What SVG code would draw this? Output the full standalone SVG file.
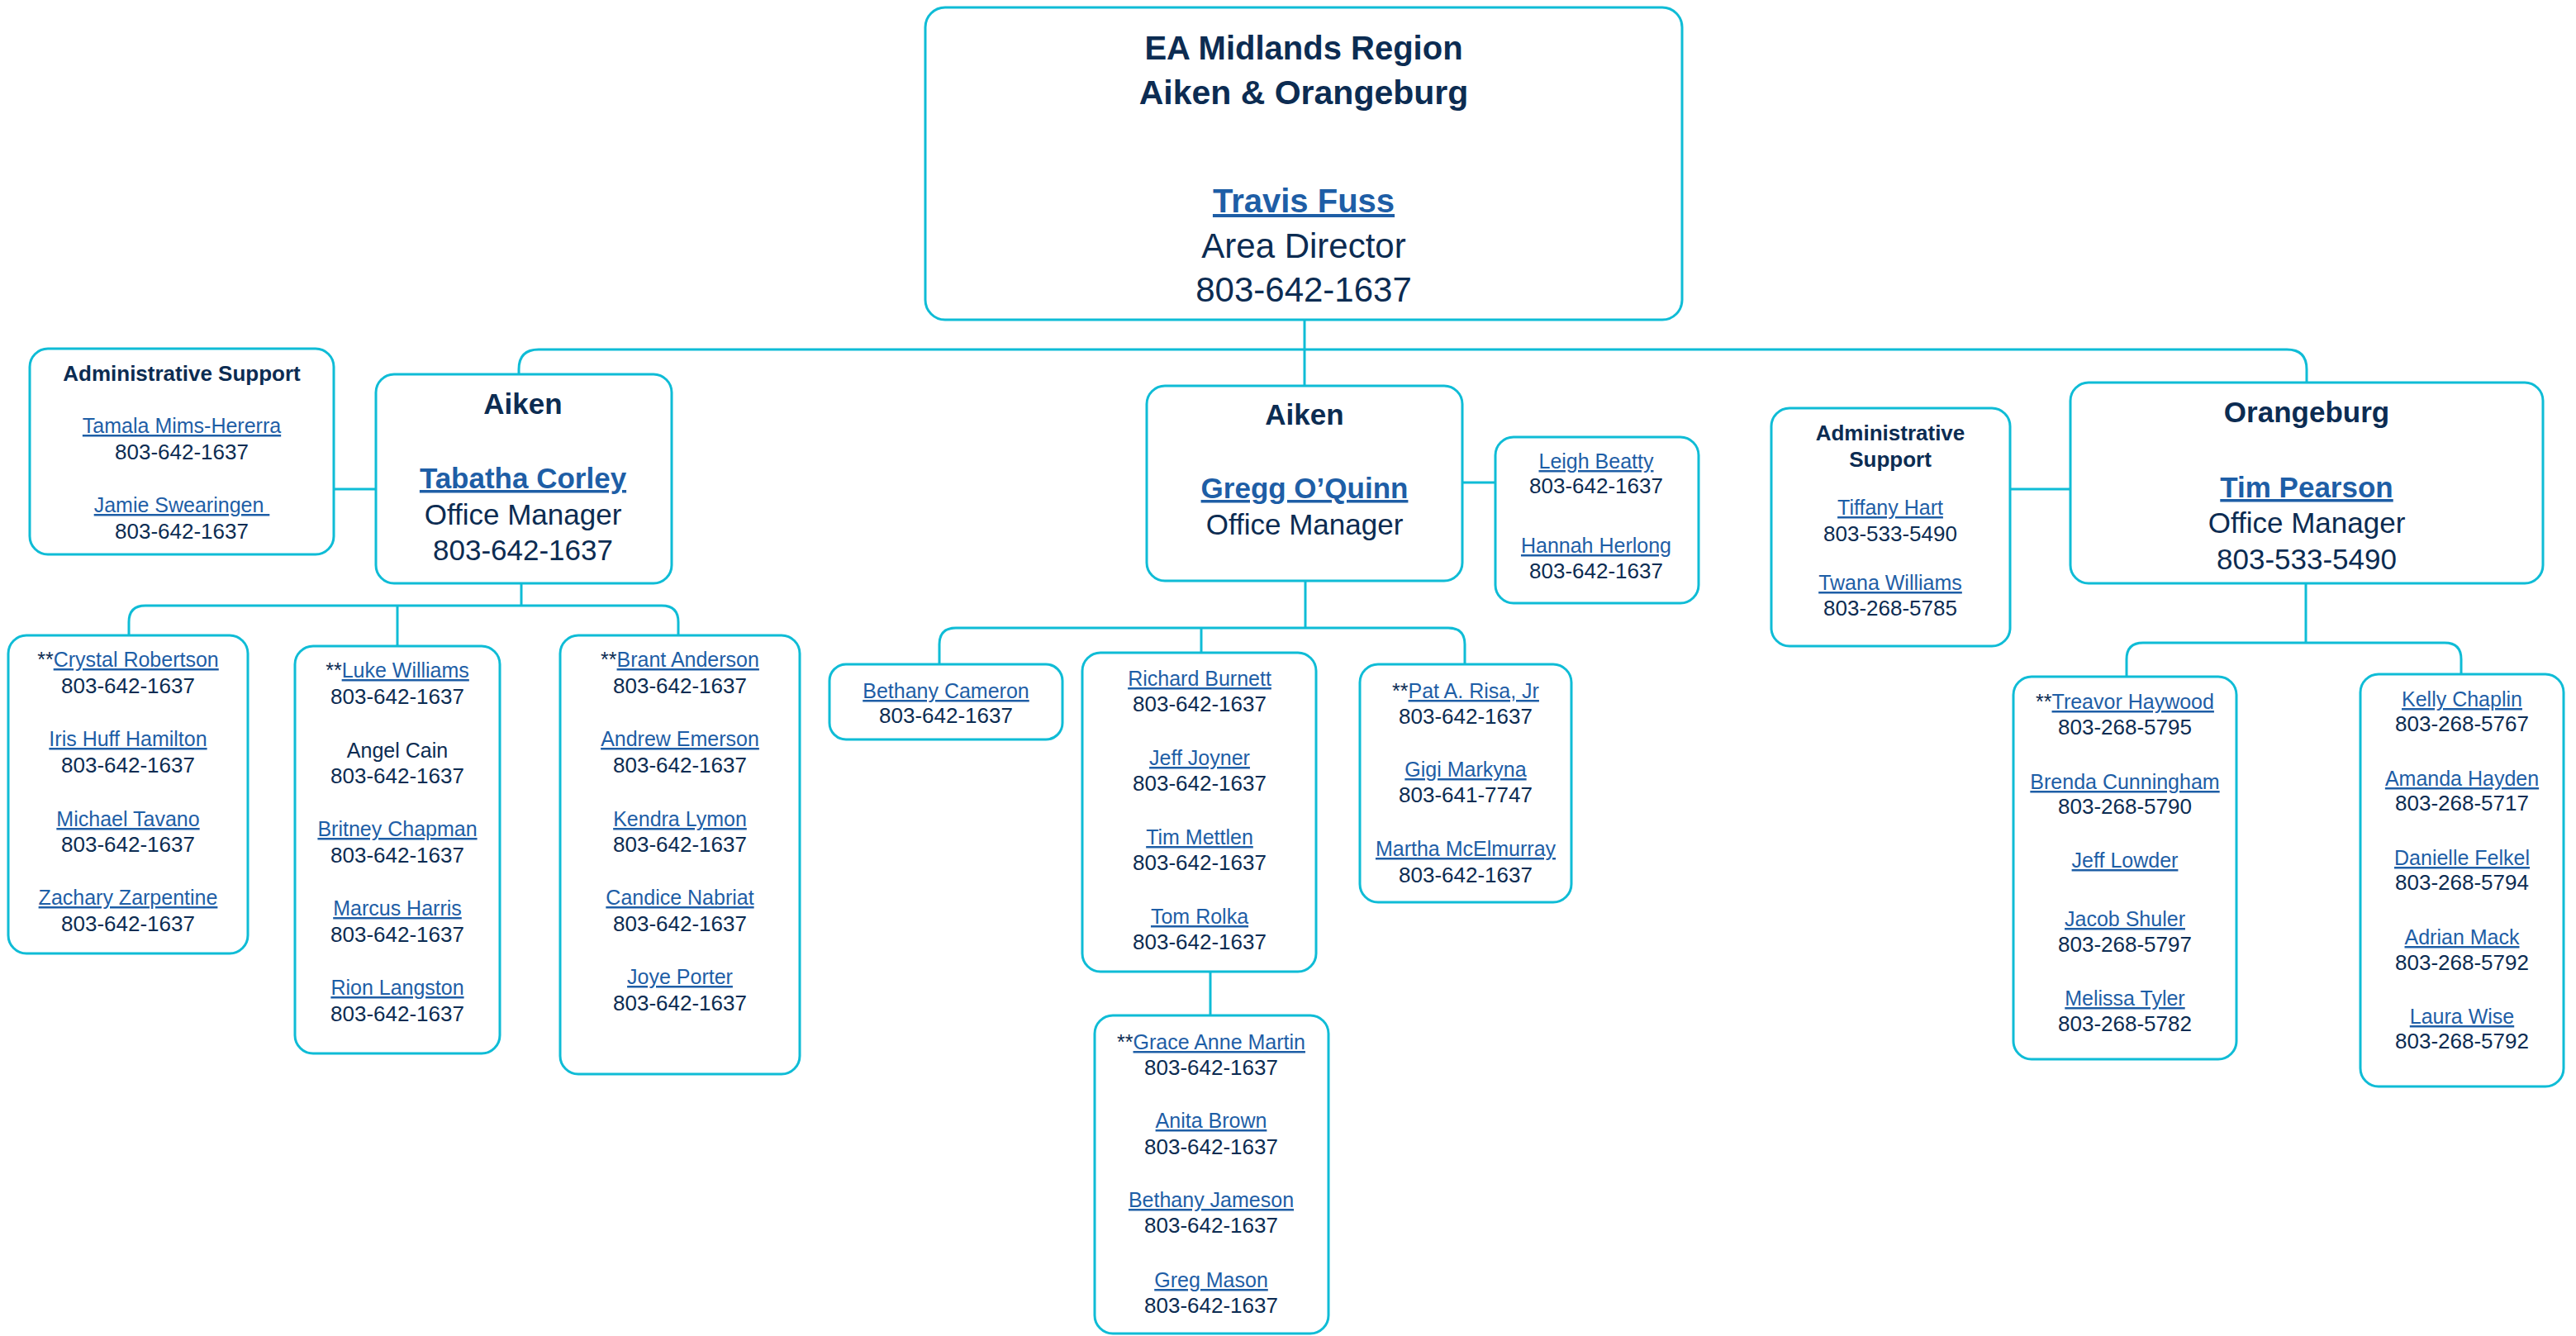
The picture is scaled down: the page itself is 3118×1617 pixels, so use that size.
<svg xmlns="http://www.w3.org/2000/svg" width="3118" height="1617" viewBox="0 0 3118 1617">
<defs>
<style>
.box{fill:#fff;stroke:#0fbcd6;stroke-width:3}
.conn{fill:none;stroke:#0fbcd6;stroke-width:3}
text{font-family:"Liberation Sans",Arial,sans-serif;fill:#0c2c52;text-anchor:middle}
.s{font-size:25px}
.p{font-size:26px}
.m{font-size:35px}
.b{font-weight:bold}
.hb{font-size:26px;font-weight:bold}
.lk{fill:#1e5ea6;text-decoration:underline}
</style>
</defs>
<rect width="3118" height="1617" fill="#fff"/>
<g id="connectors">
<path class="conn" d="M1579,387 V467"/>
<path class="conn" d="M628,453 V447 Q628,423 652,423 H2768 Q2792,423 2792,447 V463"/>
<path class="conn" d="M404,592 H455"/>
<path class="conn" d="M631,706 V733"/>
<path class="conn" d="M156,769 V753 Q156,733 176,733 H801 Q821,733 821,753 V769"/>
<path class="conn" d="M481,733 V782"/>
<path class="conn" d="M1770,584 H1810"/>
<path class="conn" d="M1580,703 V760"/>
<path class="conn" d="M1137,804 V780 Q1137,760 1157,760 H1753 Q1773,760 1773,780 V804"/>
<path class="conn" d="M1454,760 V790"/>
<path class="conn" d="M1465,1177 V1229"/>
<path class="conn" d="M2433,592 H2506"/>
<path class="conn" d="M2791,706 V778"/>
<path class="conn" d="M2574,819 V798 Q2574,778 2594,778 H2959 Q2979,778 2979,798 V816"/>
</g>
<g id="director">
<rect class="box" x="1120" y="9" width="916" height="378" rx="24"/>
<text x="1578" y="72" class="b" font-size="40">EA Midlands Region</text>
<text x="1578" y="126" class="b" font-size="41">Aiken &amp; Orangeburg</text>
<text x="1578" y="257" class="b lk" font-size="40">Travis Fuss</text>
<text x="1578" y="312" font-size="42">Area Director</text>
<text x="1578" y="365" font-size="42">803-642-1637</text>
</g>
<g id="admin-aiken">
<rect class="box" x="36" y="422" width="368" height="249" rx="22"/>
<text x="220" y="461" class="hb">Administrative Support</text>
<text x="220" y="524" class="s lk">Tamala Mims-Hererra</text>
<text x="220" y="556" class="p">803-642-1637</text>
<text x="220" y="620" class="s lk">Jamie Swearingen&#160;</text>
<text x="220" y="652" class="p">803-642-1637</text>
</g>
<g id="aiken-corley">
<rect class="box" x="455" y="453" width="358" height="253" rx="22"/>
<text x="633" y="501" class="m b">Aiken</text>
<text x="633" y="591" class="m b lk">Tabatha Corley</text>
<text x="633" y="635" class="m">Office Manager</text>
<text x="633" y="678" class="m">803-642-1637</text>
</g>
<g id="aiken-oquinn">
<rect class="box" x="1388" y="467" width="382" height="236" rx="22"/>
<text x="1579" y="514" class="m b">Aiken</text>
<text x="1579" y="603" class="m b lk">Gregg O’Quinn</text>
<text x="1579" y="647" class="m">Office Manager</text>
</g>
<g id="support-oquinn">
<rect class="box" x="1810" y="529" width="246" height="201" rx="22"/>
<text x="1932" y="567" class="s lk">Leigh Beatty</text>
<text x="1932" y="597" class="p">803-642-1637</text>
<text x="1932" y="669" class="s lk">Hannah Herlong</text>
<text x="1932" y="700" class="p">803-642-1637</text>
</g>
<g id="admin-orangeburg">
<rect class="box" x="2144" y="494" width="289" height="288" rx="22"/>
<text x="2288" y="533" class="hb">Administrative</text>
<text x="2288" y="565" class="hb">Support</text>
<text x="2288" y="623" class="s lk">Tiffany Hart</text>
<text x="2288" y="655" class="p">803-533-5490</text>
<text x="2288" y="714" class="s lk">Twana Williams</text>
<text x="2288" y="745" class="p">803-268-5785</text>
</g>
<g id="orangeburg-pearson">
<rect class="box" x="2506" y="463" width="572" height="243" rx="22"/>
<text x="2792" y="511" class="m b">Orangeburg</text>
<text x="2792" y="602" class="m b lk">Tim Pearson</text>
<text x="2792" y="645" class="m">Office Manager</text>
<text x="2792" y="689" class="m">803-533-5490</text>
</g>
<g id="team-robertson">
<rect class="box" x="10" y="769" width="290" height="385" rx="22"/>
<text x="155" y="807" class="s">**<tspan class="lk">Crystal Robertson</tspan></text>
<text x="155" y="839" class="p">803-642-1637</text>
<text x="155" y="903" class="s lk">Iris Huff Hamilton</text>
<text x="155" y="935" class="p">803-642-1637</text>
<text x="155" y="1000" class="s lk">Michael Tavano</text>
<text x="155" y="1031" class="p">803-642-1637</text>
<text x="155" y="1095" class="s lk">Zachary Zarpentine</text>
<text x="155" y="1127" class="p">803-642-1637</text>
</g>
<g id="team-williams">
<rect class="box" x="357" y="782" width="248" height="493" rx="22"/>
<text x="481" y="820" class="s">**<tspan class="lk">Luke Williams</tspan></text>
<text x="481" y="852" class="p">803-642-1637</text>
<text x="481" y="917" class="s">Angel Cain</text>
<text x="481" y="948" class="p">803-642-1637</text>
<text x="481" y="1012" class="s lk">Britney Chapman</text>
<text x="481" y="1044" class="p">803-642-1637</text>
<text x="481" y="1108" class="s lk">Marcus Harris</text>
<text x="481" y="1140" class="p">803-642-1637</text>
<text x="481" y="1204" class="s lk">Rion Langston</text>
<text x="481" y="1236" class="p">803-642-1637</text>
</g>
<g id="team-anderson">
<rect class="box" x="678" y="769" width="290" height="531" rx="22"/>
<text x="823" y="807" class="s">**<tspan class="lk">Brant Anderson</tspan></text>
<text x="823" y="839" class="p">803-642-1637</text>
<text x="823" y="903" class="s lk">Andrew Emerson</text>
<text x="823" y="935" class="p">803-642-1637</text>
<text x="823" y="1000" class="s lk">Kendra Lymon</text>
<text x="823" y="1031" class="p">803-642-1637</text>
<text x="823" y="1095" class="s lk">Candice Nabriat</text>
<text x="823" y="1127" class="p">803-642-1637</text>
<text x="823" y="1191" class="s lk">Joye Porter</text>
<text x="823" y="1223" class="p">803-642-1637</text>
</g>
<g id="team-cameron">
<rect class="box" x="1004" y="804" width="282" height="91" rx="20"/>
<text x="1145" y="845" class="s lk">Bethany Cameron</text>
<text x="1145" y="875" class="p">803-642-1637</text>
</g>
<g id="team-burnett">
<rect class="box" x="1310" y="790" width="283" height="386" rx="22"/>
<text x="1452" y="830" class="s lk">Richard Burnett</text>
<text x="1452" y="861" class="p">803-642-1637</text>
<text x="1452" y="926" class="s lk">Jeff Joyner</text>
<text x="1452" y="957" class="p">803-642-1637</text>
<text x="1452" y="1022" class="s lk">Tim Mettlen</text>
<text x="1452" y="1053" class="p">803-642-1637</text>
<text x="1452" y="1118" class="s lk">Tom Rolka</text>
<text x="1452" y="1149" class="p">803-642-1637</text>
</g>
<g id="team-risa">
<rect class="box" x="1646" y="804" width="256" height="288" rx="22"/>
<text x="1774" y="845" class="s">**<tspan class="lk">Pat A. Risa, Jr</tspan></text>
<text x="1774" y="876" class="p">803-642-1637</text>
<text x="1774" y="940" class="s lk">Gigi Markyna</text>
<text x="1774" y="971" class="p">803-641-7747</text>
<text x="1774" y="1036" class="s lk">Martha McElmurray</text>
<text x="1774" y="1068" class="p">803-642-1637</text>
</g>
<g id="team-martin">
<rect class="box" x="1325" y="1229" width="283" height="385" rx="22"/>
<text x="1466" y="1270" class="s">**<tspan class="lk">Grace Anne Martin</tspan></text>
<text x="1466" y="1301" class="p">803-642-1637</text>
<text x="1466" y="1365" class="s lk">Anita Brown</text>
<text x="1466" y="1397" class="p">803-642-1637</text>
<text x="1466" y="1461" class="s lk">Bethany Jameson</text>
<text x="1466" y="1492" class="p">803-642-1637</text>
<text x="1466" y="1558" class="s lk">Greg Mason</text>
<text x="1466" y="1589" class="p">803-642-1637</text>
</g>
<g id="team-haywood">
<rect class="box" x="2437" y="819" width="270" height="463" rx="22"/>
<text x="2572" y="858" class="s">**<tspan class="lk">Treavor Haywood</tspan></text>
<text x="2572" y="889" class="p">803-268-5795</text>
<text x="2572" y="955" class="s lk">Brenda Cunningham</text>
<text x="2572" y="985" class="p">803-268-5790</text>
<text x="2572" y="1050" class="s lk">Jeff Lowder</text>
<text x="2572" y="1121" class="s lk">Jacob Shuler</text>
<text x="2572" y="1152" class="p">803-268-5797</text>
<text x="2572" y="1217" class="s lk">Melissa Tyler</text>
<text x="2572" y="1248" class="p">803-268-5782</text>
</g>
<g id="team-chaplin">
<rect class="box" x="2857" y="816" width="246" height="499" rx="22"/>
<text x="2980" y="855" class="s lk">Kelly Chaplin</text>
<text x="2980" y="885" class="p">803-268-5767</text>
<text x="2980" y="951" class="s lk">Amanda Hayden</text>
<text x="2980" y="981" class="p">803-268-5717</text>
<text x="2980" y="1047" class="s lk">Danielle Felkel</text>
<text x="2980" y="1077" class="p">803-268-5794</text>
<text x="2980" y="1143" class="s lk">Adrian Mack</text>
<text x="2980" y="1174" class="p">803-268-5792</text>
<text x="2980" y="1239" class="s lk">Laura Wise</text>
<text x="2980" y="1269" class="p">803-268-5792</text>
</g>
</svg>
